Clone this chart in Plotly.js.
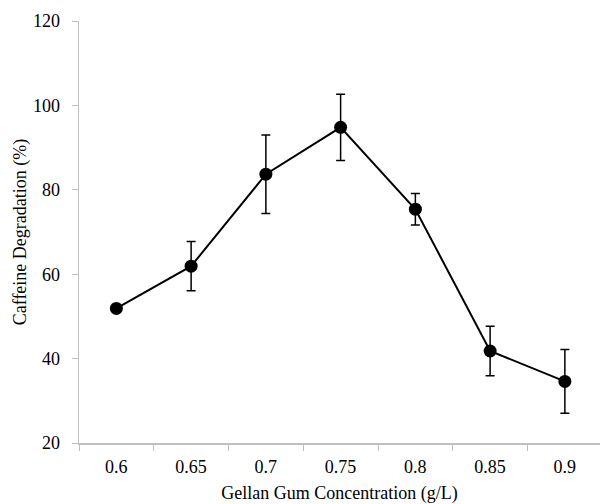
<!DOCTYPE html>
<html>
<head>
<meta charset="utf-8">
<script src="https://cdn.plot.ly/plotly-3.0.1.min.js"></script>
<style>html,body{margin:0;padding:0;background:#fff;}#chart{width:600px;height:504px;}</style>
</head>
<body>
<div id="chart"></div>
<script>
var concentrations = ["0.6", "0.65", "0.7", "0.75", "0.8", "0.85", "0.9"];
var degradation = [51.9, 61.9, 83.7, 94.8, 75.4, 41.8, 34.6];
var errors = [0, 5.85, 9.3, 7.85, 3.75, 5.85, 7.55];

var font = "'Liberation Serif', 'Times New Roman', serif";
var axisGray = "#bfbfbf";

var trace = {
  x: concentrations,
  y: degradation,
  type: "scatter",
  mode: "lines+markers",
  line: {color: "#000000", width: 2},
  marker: {color: "#000000", size: 13, symbol: "circle"},
  error_y: {type: "data", array: errors, visible: true, color: "#000000", thickness: 1.5, width: 4.5},
  showlegend: false,
  cliponaxis: false
};

var layout = {
  width: 600,
  height: 504,
  margin: {l: 79, r: 0, t: 21, b: 61},
  paper_bgcolor: "#ffffff",
  plot_bgcolor: "#ffffff",
  font: {family: font, size: 18, color: "#000000"},
  xaxis: {
    type: "category",
    range: [-0.5, 6.47],
    tickson: "boundaries",
    ticks: "outside",
    ticklen: 6,
    tickcolor: axisGray,
    tickwidth: 1,
    showline: true,
    linecolor: axisGray,
    linewidth: 1.5,
    showgrid: false,
    zeroline: false,
    ticklabelstandoff: 7,
    tickfont: {family: font, size: 18, color: "#000000"},
    title: {text: "Gellan Gum Concentration (g/L)", font: {family: font, size: 18, color: "#000000"}, standoff: 11}
  },
  yaxis: {
    range: [20, 120],
    tickvals: [20, 40, 60, 80, 100, 120],
    ticks: "outside",
    ticklen: 6,
    tickcolor: axisGray,
    tickwidth: 1,
    showline: true,
    linecolor: axisGray,
    linewidth: 1.5,
    showgrid: false,
    zeroline: false,
    ticklabelstandoff: 8,
    tickfont: {family: font, size: 18, color: "#000000"},
    title: {text: "Caffeine Degradation (%)", font: {family: font, size: 18, color: "#000000"}, standoff: 1}
  }
};

Plotly.newPlot("chart", [trace], layout, {displayModeBar: false, staticPlot: true});
</script>
</body>
</html>
